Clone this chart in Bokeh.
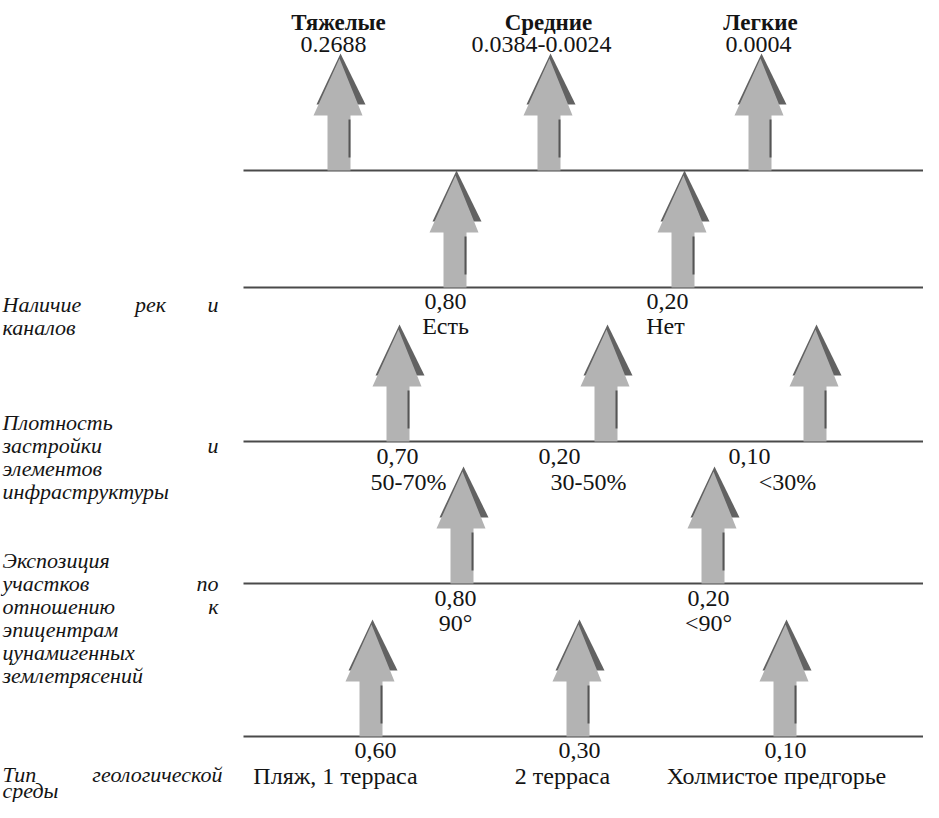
from bokeh.plotting import figure
from bokeh.models import Range1d
from bokeh.core.properties import value
from bokeh.embed import file_html
from bokeh.resources import INLINE

# ---- data (text content) ----
damage_groups = ["Тяжелые", "Средние", "Легкие"]
damage_weights = ["0.2688", "0.0384-0.0024", "0.0004"]
river_weights = ["0,80", "0,20"]
river_classes = ["Есть", "Нет"]
density_weights = ["0,70", "0,20", "0,10"]
density_classes = ["50-70%", "30-50%", "<30%"]
expo_weights = ["0,80", "0,20"]
expo_classes = ["90°", "<90°"]
geo_weights = ["0,60", "0,30", "0,10"]
geo_classes = ["Пляж, 1 терраса", "2 терраса", "Холмистое предгорье"]

# ---- layout (pixel positions of the scheme) ----
level_y = [170, 287, 441, 583, 736]
arrow_x = [[339, 549, 760], [455, 683], [398, 606, 815], [462, 713], [371, 578, 785]]
W, H = 923, 802

p = figure(width=W, height=H,
           x_range=Range1d(0, W), y_range=Range1d(H, 0),
           output_backend="svg", toolbar_location=None, min_border=0)
p.axis.visible = False
p.grid.visible = False
p.outline_line_color = None
p.background_fill_color = "white"

LIGHT = "#b3b3b3"
DARK = "#626262"
LINE = "#4a4a4a"
INK = "#141414"

# horizontal levels
p.segment(x0=[243] * len(level_y), x1=[W + 20] * len(level_y), y0=level_y, y1=level_y,
          line_color=LINE, line_width=2)

# arrows
dark_xs, dark_ys, light_xs, light_ys, sh_x, sh_y0, sh_y1 = [], [], [], [], [], [], []
for row, xs in enumerate(arrow_x):
    b = level_y[row]
    for cx in xs:
        dark_xs.append([cx + 1, cx + 26, cx - 23])
        dark_ys.append([b - 117, b - 66, b - 66])
        light_xs.append([cx, cx + 23, cx + 11, cx + 11, cx - 12, cx - 12, cx - 26])
        light_ys.append([b - 112, b - 55, b - 55, b, b, b - 55, b - 55])
        sh_x.append(cx + 10)
        sh_y0.append(b - 51)
        sh_y1.append(b - 13)
p.patches(dark_xs, dark_ys, fill_color=DARK, line_color=None)
p.patches(light_xs, light_ys, fill_color=LIGHT, line_color=None)
p.segment(x0=sh_x, x1=sh_x, y0=sh_y0, y1=sh_y1, line_color="#555555", line_width=2)

SERIF = value("'Liberation Serif', 'Times New Roman', Times, serif")
FS = "24px"


def txt(xs, ys, texts, align="center", font=SERIF, size=FS, style="normal"):
    p.text(x=xs, y=ys, text=texts, text_align=align, text_baseline="alphabetic",
           text_font=font, text_font_size=size, text_font_style=style, text_color=INK)


# header
txt([338, 548, 760], [22] * 3, damage_groups, size="23px", style="bold")
txt([333, 541, 758], [44] * 3, damage_weights)
# rivers
txt([445, 667], [301] * 2, river_weights)
txt([445, 665], [325] * 2, river_classes)
# density
txt([397, 559, 749], [456] * 3, density_weights)
txt([408, 588, 787], [481] * 3, density_classes)
# exposition
txt([455, 708], [598] * 2, expo_weights)
txt([455, 708], [622] * 2, expo_classes)
# geology
txt([375, 579, 785], [750] * 3, geo_weights)
txt([335, 562, 776], [775] * 3, geo_classes)

# left factor names (justified lines)
LS = "22px"
left_words = ["Наличие", "каналов", "Плотность", "застройки", "элементов", "инфраструктуры",
              "Экспозиция", "участков", "отношению", "эпицентрам", "цунамигенных", "землетрясений"]
left_y = [304, 327, 422, 445, 468, 491, 560, 583, 606, 629, 652, 675]
txt([2] * len(left_words), left_y, left_words, align="left", size=LS, style="italic")
txt([150], [304], ["рек"], align="center", size=LS, style="italic")
txt([218] * 4, [304, 445, 583, 606], ["и", "и", "по", "к"], align="right", size=LS, style="italic")
txt([2, 2], [774, 790], ["Тип", "среды"], align="left", size=LS, style="italic")
txt([222], [774], ["геологической"], align="right", size=LS, style="italic")

open("out.html", "w").write(file_html(p, INLINE))
